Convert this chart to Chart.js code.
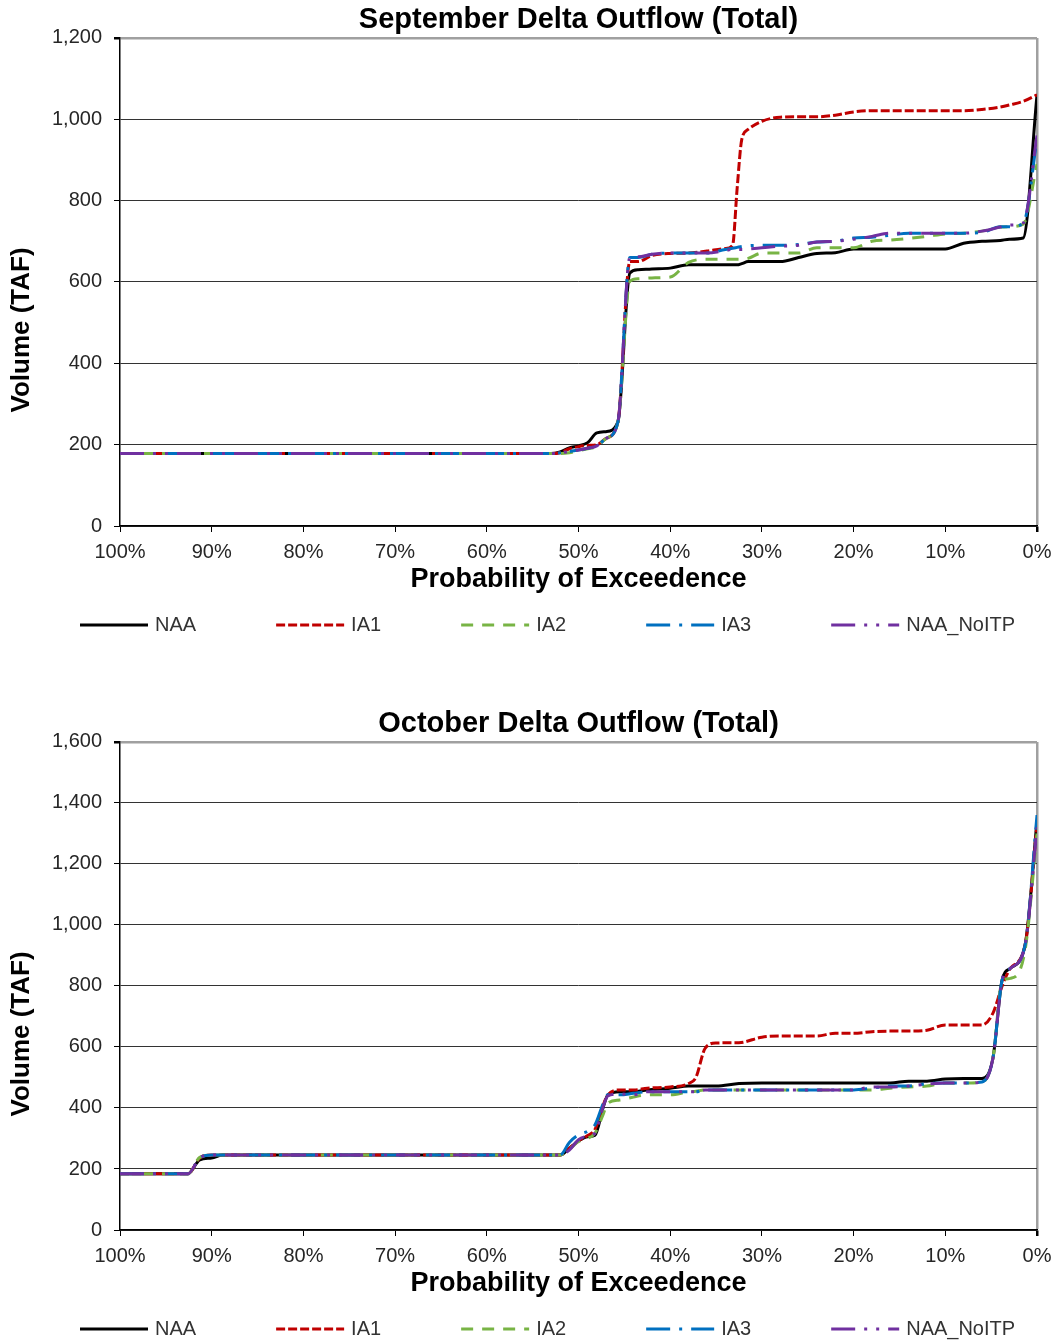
<!DOCTYPE html>
<html>
<head>
<meta charset="utf-8">
<title>Delta Outflow</title>
<script src="https://cdn.jsdelivr.net/npm/chart.js@4.4.1/dist/chart.umd.min.js"></script>
<style>
    html, body { margin: 0; padding: 0; background: #fff; }
    .panel { position: absolute; left: 0; width: 1057px; height: 636px; }
    #sepPanel { top: 0; }
    #octPanel { top: 704px; }
</style>
</head>
<body>
<div class="panel" id="sepPanel"><canvas id="sepChart" width="1057" height="636"></canvas></div>
<div class="panel" id="octPanel"><canvas id="octChart" width="1057" height="636"></canvas></div>
<script>
// Series names (legend order)
const seriesNames = ['NAA', 'IA1', 'IA2', 'IA3', 'NAA_NoITP'];

// Axis ticks
const probTicks = [100, 90, 80, 70, 60, 50, 40, 30, 20, 10, 0];
const sepVolTicks = [0, 200, 400, 600, 800, 1000, 1200];
const octVolTicks = [0, 200, 400, 600, 800, 1000, 1200, 1400, 1600];

// September exceedence curves (probability %, volume TAF)
const sepProb = [100, 53, 52, 51, 50, 49, 48, 47, 45.7, 44.4, 43.5, 42, 40, 38, 36, 34, 33.2, 32.7, 32.2, 31.5, 30, 28, 26, 24, 22, 20, 18, 16, 14, 12, 10, 8, 6, 4, 3, 1.5, 0];
const sepNAA = [178, 178, 182, 192, 197, 205, 229, 232, 256, 622, 630, 632, 634, 642, 642, 642, 642, 642, 645, 650, 650, 650, 660, 670, 672, 681, 681, 681, 681, 681, 681, 695, 700, 702, 705, 708, 1060];
const sepIA1 = [178, 178, 180, 190, 195, 198, 200, 215, 256, 650, 650, 665, 670, 671, 676, 682, 690, 830, 950, 975, 995, 1005, 1006, 1006, 1010, 1018, 1021, 1021, 1021, 1021, 1021, 1021, 1024, 1030, 1035, 1044, 1060];
const sepIA2 = [178, 178, 178, 180, 185, 190, 195, 215, 256, 602, 608, 610, 612, 648, 656, 656, 656, 656, 656, 658, 671, 671, 671, 684, 684, 684, 700, 703, 707, 712, 718, 720, 725, 735, 736, 742, 890];
const sepIA3 = [178, 178, 180, 183, 187, 191, 197, 215, 256, 660, 660, 668, 671, 671, 671, 680, 683, 685, 687, 689, 690, 690, 692, 698, 700, 708, 710, 715, 720, 720, 720, 720, 722, 736, 736, 744, 950];
const sepNoITP = [178, 178, 180, 183, 187, 191, 197, 215, 256, 660, 662, 668, 671, 671, 671, 677, 680, 680, 680, 681, 684, 688, 690, 698, 700, 705, 712, 720, 720, 720, 720, 720, 725, 735, 740, 745, 960];

// October exceedence curves (probability %, volume TAF)
const octProb = [100, 92.6, 91.3, 90, 88.8, 52, 51, 50, 49, 48.2, 47.3, 46.8, 45.5, 44, 42.5, 40, 38, 37.2, 36.2, 35, 32.5, 30, 28, 26, 24, 22, 20, 18, 16, 14, 12, 10, 8, 6, 4.8, 3.8, 2.9, 1.3, 0];
const octNAA = [184, 184, 230, 236, 246, 246, 268, 292, 306, 311, 403, 443, 453, 453, 459, 465, 472, 472, 472, 472, 480, 482, 482, 482, 482, 482, 482, 482, 482, 488, 488, 495, 497, 497, 564, 820, 858, 934, 1340];
const octIA1 = [184, 184, 236, 246, 246, 246, 268, 292, 310, 330, 410, 443, 459, 459, 465, 469, 480, 500, 595, 613, 614, 632, 636, 636, 636, 645, 645, 650, 652, 652, 655, 672, 672, 672, 711, 800, 858, 934, 1330];
const octIA2 = [184, 184, 238, 246, 246, 246, 265, 290, 300, 318, 380, 416, 426, 436, 443, 443, 453, 455, 459, 459, 459, 459, 459, 459, 459, 459, 459, 459, 465, 469, 472, 482, 482, 485, 564, 815, 825, 918, 1300];
const octIA3 = [184, 184, 236, 246, 246, 246, 287, 312, 324, 345, 415, 443, 443, 448, 453, 453, 453, 453, 459, 459, 459, 459, 459, 459, 459, 459, 459, 465, 472, 472, 480, 482, 482, 485, 564, 820, 858, 934, 1360];
const octNoITP = [184, 184, 236, 246, 246, 246, 262, 296, 308, 318, 405, 440, 446, 443, 453, 453, 453, 453, 459, 459, 459, 459, 459, 459, 459, 459, 459, 469, 469, 472, 478, 482, 482, 485, 564, 820, 858, 934, 1320];

// Line styles
const lineColors = ['#000000', '#C00000', '#78B445', '#0070C0', '#7030A0'];
const lineDashes = [[], [9, 3], [12, 9], [24, 9, 3, 9], [24, 9, 3, 9, 3, 9]];
const FONT = '"Liberation Sans", Arial, sans-serif';

// Rotated y title and the legend row under the x axis
const extrasPlugin = {
    id: 'extras',
    afterDraw(chart) {
        const { ctx, chartArea } = chart;

        ctx.save();
        ctx.translate(22, (chartArea.top + chartArea.bottom) / 2 + 48);
        ctx.rotate(-Math.PI / 2);
        ctx.font = 'bold 26px ' + FONT;
        ctx.fillStyle = '#000';
        ctx.textAlign = 'center';
        ctx.textBaseline = 'middle';
        ctx.fillText('Volume (TAF)', 0, 0);
        ctx.restore();

        ctx.save();
        ctx.font = '20px ' + FONT;
        ctx.textBaseline = 'middle';
        ctx.textAlign = 'left';
        const y = chartArea.bottom + 99;
        let x = 80;
        chart.data.datasets.forEach((ds) => {
            ctx.beginPath();
            ctx.strokeStyle = ds.borderColor;
            ctx.lineWidth = 3;
            ctx.setLineDash(ds.borderDash);
            ctx.moveTo(x, y);
            ctx.lineTo(x + 68, y);
            ctx.stroke();
            ctx.setLineDash([]);
            ctx.fillStyle = '#333';
            ctx.fillText(ds.label, x + 75, y);
            x += 75 + ctx.measureText(ds.label).width + 80;
        });
        ctx.restore();
    }
};

function buildChart(canvasId, titleText, prob, series, volTicks) {
    const yMax = volTicks[volTicks.length - 1];

    const datasets = series.map((values, i) => ({
        label: seriesNames[i],
        data: prob.map((p, j) => ({ x: p, y: values[j] })),
        borderColor: lineColors[i],
        borderDash: lineDashes[i],
        borderWidth: 3,
        pointRadius: 0,
        cubicInterpolationMode: 'monotone',
        fill: false,
        order: seriesNames.length - i
    }));

    return new Chart(document.getElementById(canvasId), {
        type: 'line',
        data: { datasets },
        options: {
            responsive: false,
            animation: false,
            layout: { padding: { left: 0, right: 20, top: 0, bottom: 40 } },
            plugins: {
                legend: { display: false },
                tooltip: { enabled: false },
                title: {
                    display: true,
                    text: titleText,
                    fullSize: false,
                    color: '#000',
                    font: { family: FONT, size: 29, weight: 'bold', lineHeight: 1.1 },
                    padding: { top: 4, bottom: 2 }
                }
            },
            scales: {
                x: {
                    type: 'linear',
                    reverse: true,
                    min: 0,
                    max: 100,
                    afterBuildTicks: (scale) => { scale.ticks = probTicks.map(v => ({ value: v })); },
                    afterFit: (scale) => {
                        scale.height = 70;
                        // the end labels may hang over the plot edges
                        scale.paddingLeft = 0;
                        scale.paddingRight = 0;
                    },
                    ticks: {
                        callback: (v) => v + '%',
                        autoSkip: false,
                        maxRotation: 0,
                        color: '#262626',
                        font: { family: FONT, size: 20 },
                        padding: 8
                    },
                    grid: {
                        color: (c) => c.tick && c.tick.value === 0 ? '#a0a0a0' : 'rgba(0,0,0,0)',
                        lineWidth: (c) => c.tick && c.tick.value === 0 ? 2.5 : 1,
                        tickColor: '#000',
                        tickLength: 6
                    },
                    border: { color: '#000', width: 1.5 },
                    title: {
                        display: true,
                        text: 'Probability of Exceedence',
                        color: '#000',
                        font: { family: FONT, size: 27, weight: 'bold' },
                        padding: { top: 0, bottom: 0 }
                    }
                },
                y: {
                    min: 0,
                    max: yMax,
                    afterBuildTicks: (scale) => { scale.ticks = volTicks.map(v => ({ value: v })); },
                    afterFit: (scale) => { scale.width = 120; },
                    ticks: {
                        callback: (v) => v.toLocaleString('en-US'),
                        color: '#262626',
                        font: { family: FONT, size: 20 },
                        padding: 12
                    },
                    grid: {
                        color: (c) => c.tick && c.tick.value === yMax ? '#a0a0a0' : '#333',
                        lineWidth: (c) => c.tick && c.tick.value === yMax ? 2.5 : 1,
                        tickColor: '#000',
                        tickLength: 6
                    },
                    border: { color: '#000', width: 1.5 }
                }
            }
        },
        plugins: [extrasPlugin]
    });
}

buildChart('sepChart', 'September Delta Outflow (Total)', sepProb,
    [sepNAA, sepIA1, sepIA2, sepIA3, sepNoITP], sepVolTicks);
buildChart('octChart', 'October Delta Outflow (Total)', octProb,
    [octNAA, octIA1, octIA2, octIA3, octNoITP], octVolTicks);
</script>
</body>
</html>
